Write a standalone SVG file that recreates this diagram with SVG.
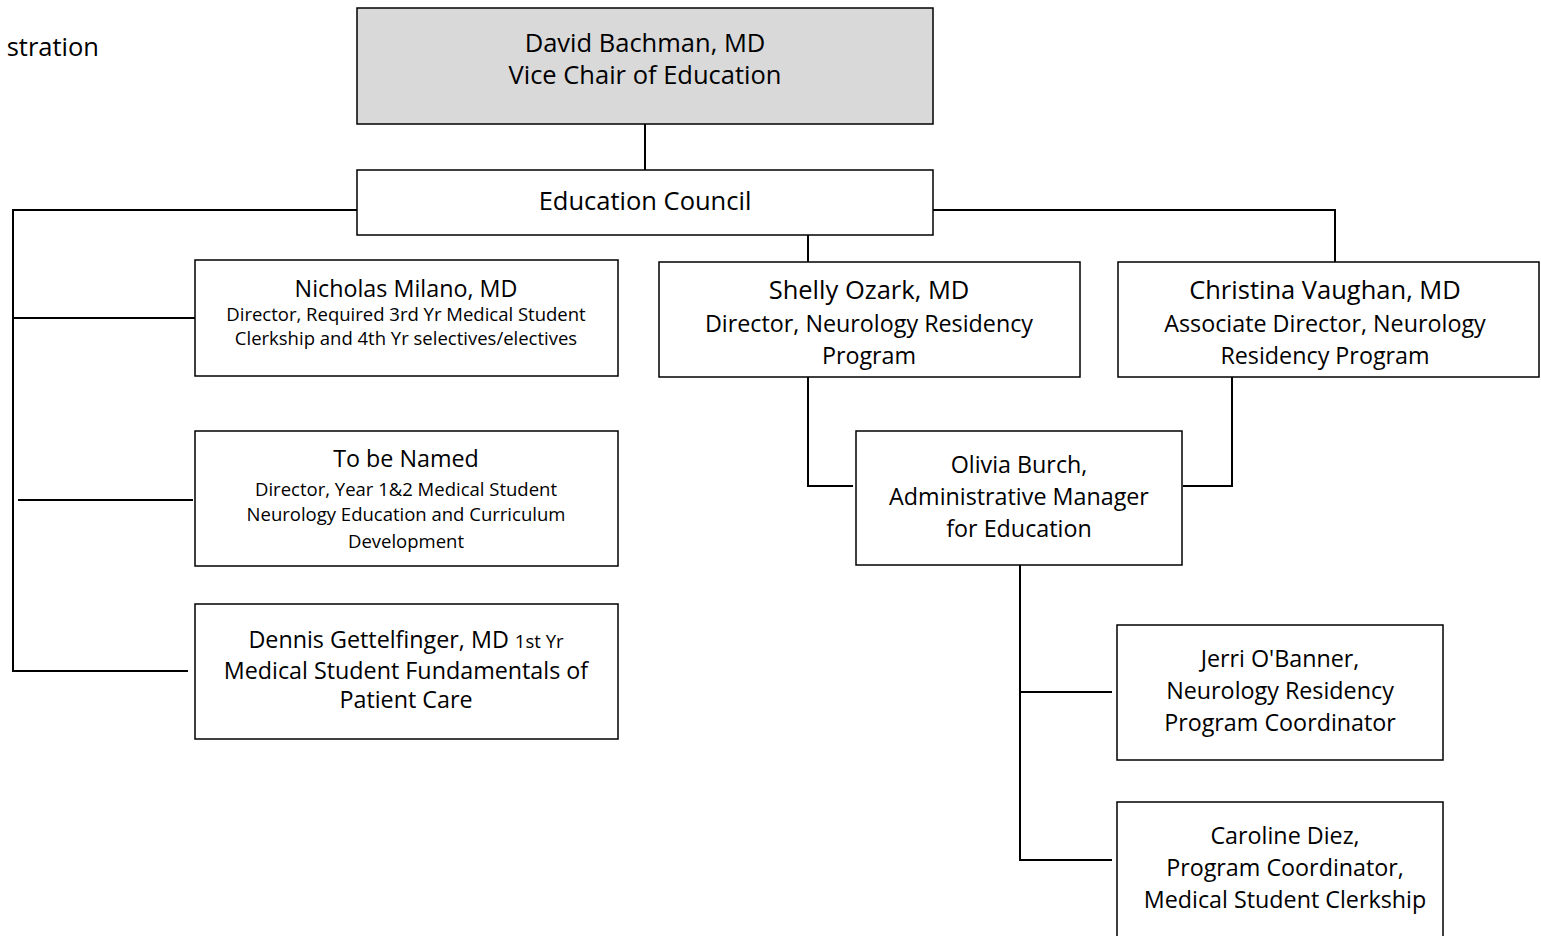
<svg xmlns="http://www.w3.org/2000/svg" width="1541" height="936" viewBox="0 0 1541 936">
<style>
.box{fill:#fff;stroke:#000;stroke-width:1.5}
.top{fill:#d9d9d9;stroke:#000;stroke-width:1.5}
.c{fill:none;stroke:#000;stroke-width:2}
text{font-family:"Open Sans",Lato,"Liberation Sans",sans-serif;fill:#000;text-anchor:middle}
.l{font-size:25.5px}
.m{font-size:23.3px}
.s{font-size:18.5px}
</style>
<rect width="1541" height="936" fill="#fff"/>
<text class="l" x="99" y="56" style="text-anchor:end">stration</text>
<g id="connectors">
<path class="c" d="M645 124V170"/>
<path class="c" d="M357 210H13V671H188"/>
<path class="c" d="M13 318H195"/>
<path class="c" d="M18 500H193"/>
<path class="c" d="M933 210H1335V262"/>
<path class="c" d="M808 235V262"/>
<path class="c" d="M808 377V486H853"/>
<path class="c" d="M1232 377V486H1183"/>
<path class="c" d="M1020 565V860H1112"/>
<path class="c" d="M1020 692H1112"/>
</g>
<g id="bachman">
<rect class="top" x="357" y="8" width="576" height="116"/>
<text class="l" x="645" y="52">David Bachman, MD</text>
<text class="l" x="645" y="84">Vice Chair of Education</text>
</g>
<g id="council">
<rect class="box" x="357" y="170" width="576" height="65"/>
<text class="l" x="645" y="210">Education Council</text>
</g>
<g id="milano">
<rect class="box" x="195" y="260" width="423" height="116"/>
<text class="m" x="406" y="297">Nicholas Milano, MD</text>
<text class="s" x="406" y="321">Director, Required 3rd Yr Medical Student</text>
<text class="s" x="406" y="345">Clerkship and 4th Yr selectives/electives</text>
</g>
<g id="tobenamed">
<rect class="box" x="195" y="431" width="423" height="135"/>
<text class="m" x="406" y="467">To be Named</text>
<text class="s" x="406" y="496">Director, Year 1&amp;2 Medical Student</text>
<text class="s" x="406" y="521">Neurology Education and Curriculum</text>
<text class="s" x="406" y="548">Development</text>
</g>
<g id="gettelfinger">
<rect class="box" x="195" y="604" width="423" height="135"/>
<text class="m" x="406" y="648">Dennis Gettelfinger, MD <tspan class="s">1st Yr</tspan></text>
<text class="m" x="406" y="679">Medical Student Fundamentals of</text>
<text class="m" x="406" y="708">Patient Care</text>
</g>
<g id="ozark">
<rect class="box" x="659" y="262" width="421" height="115"/>
<text class="l" x="869" y="299">Shelly Ozark, MD</text>
<text class="m" x="869" y="332">Director, Neurology Residency</text>
<text class="m" x="869" y="364">Program</text>
</g>
<g id="vaughan">
<rect class="box" x="1118" y="262" width="421" height="115"/>
<text class="l" x="1325" y="299">Christina Vaughan, MD</text>
<text class="m" x="1325" y="332">Associate Director, Neurology</text>
<text class="m" x="1325" y="364">Residency Program</text>
</g>
<g id="burch">
<rect class="box" x="856" y="431" width="326" height="134"/>
<text class="m" x="1019" y="473">Olivia Burch,</text>
<text class="m" x="1019" y="505">Administrative Manager</text>
<text class="m" x="1019" y="537">for Education</text>
</g>
<g id="obanner">
<rect class="box" x="1117" y="625" width="326" height="135"/>
<text class="m" x="1280" y="667">Jerri O'Banner,</text>
<text class="m" x="1280" y="699">Neurology Residency</text>
<text class="m" x="1280" y="731">Program Coordinator</text>
</g>
<g id="diez">
<rect class="box" x="1117" y="802" width="326" height="140"/>
<text class="m" x="1285" y="844">Caroline Diez,</text>
<text class="m" x="1285" y="876">Program Coordinator,</text>
<text class="m" x="1285" y="908">Medical Student Clerkship</text>
</g>
</svg>
